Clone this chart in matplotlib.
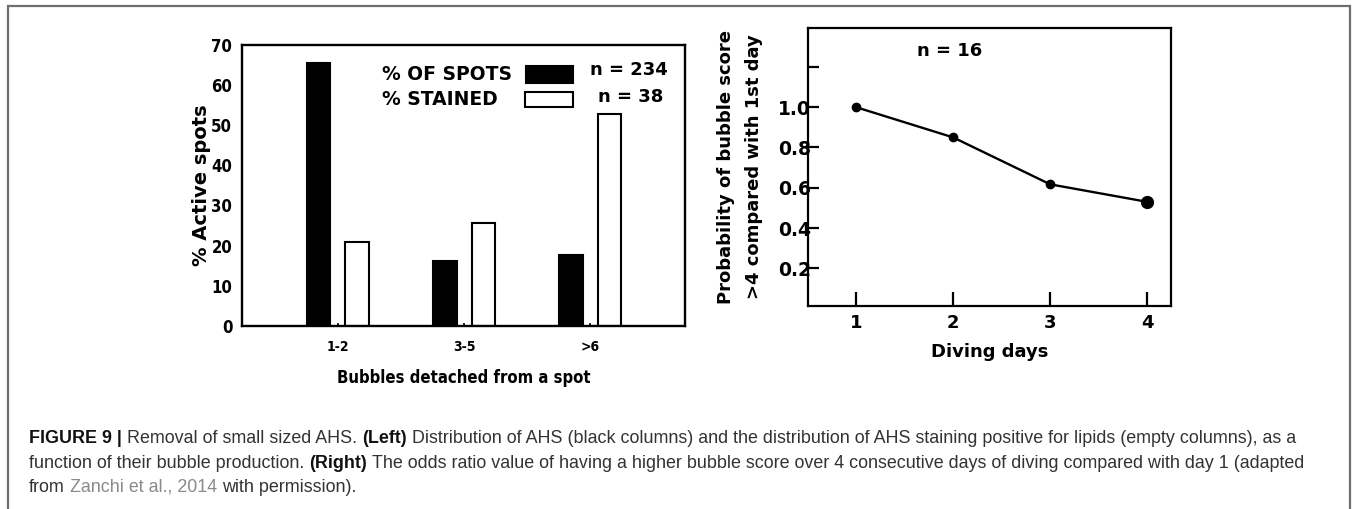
import numpy as np
import matplotlib
matplotlib.use("Agg")
import matplotlib.pyplot as plt
from matplotlib.patches import Rectangle
from matplotlib import font_manager

# left panel: % active spots by bubbles detached
categories = ['1-2', '3-5', '>6']
pct_spots = [65.3, 16.2, 17.6]
pct_stained = [20.8, 25.7, 52.8]
legend_labels = ['% OF SPOTS', '% STAINED']
legend_n = ['n = 234', 'n = 38']

# right panel: probability over diving days
days = [1, 2, 3, 4]
prob = [1.0, 0.85, 0.617, 0.53]
y_ticks = [0.2, 0.4, 0.6, 0.8, 1.0, 1.2]
y_ticklabels = ['0.2', '0.4', '0.6', '0.8', '1.0', '']

W, H = 1357, 509
fig = plt.figure(figsize=(W / 100, H / 100), dpi=100)
plt.rcParams['font.family'] = 'DejaVu Sans'

# condensed bold if the font exists, else plain bold a bit smaller
cond_path = font_manager.findfont(font_manager.FontProperties(family='DejaVu Sans', stretch='condensed', weight='bold'))
has_cond = 'Condensed' in cond_path
k = 1.0 if has_cond else 0.88
cond = dict(fontweight='bold', fontstretch='condensed')

# outer frame
fig.patches.append(Rectangle((8 / W, -0.1), (1350 - 8) / W, 1.1 - 6 / H, transform=fig.transFigure,
                             fill=False, edgecolor='#6e6e6e', lw=1.6))

# ---- left panel ----
ax1 = fig.add_axes([242 / W, 1 - 326 / H, (685 - 242) / W, (326 - 44.5) / H])
x = np.arange(len(categories))
bw = 0.185
ax1.bar(x - 0.152, pct_spots, bw, color='black', edgecolor='black', lw=1.5)
ax1.bar(x + 0.152, pct_stained, bw, color='white', edgecolor='black', lw=1.5)
ax1.set_xlim(-0.76, 2.75)
ax1.set_ylim(0, 70)
ax1.set_yticks(range(0, 71, 10))
ax1.set_xticks(x)
ax1.set_xticklabels(categories, fontsize=10 * k, **cond)
for lab in ax1.get_yticklabels():
    lab.set_fontsize(12 * k)
    lab.set_fontweight('bold')
    lab.set_fontstretch('condensed')
ax1.tick_params(axis='y', length=0, pad=7)
ax1.tick_params(axis='x', direction='in', length=2.5, width=1.2, pad=10)
for s in ax1.spines.values():
    s.set_linewidth(1.7)
ax1.set_ylabel('% Active spots', fontsize=14, fontweight='bold', labelpad=0)
ax1.set_xlabel('Bubbles detached from a spot', fontsize=12 * k, labelpad=11, **cond)

# legend drawn by hand: text then box
ax1.text(0.316, 0.892, legend_labels[0], transform=ax1.transAxes, fontsize=13.5, fontweight='bold', va='center')
ax1.text(0.316, 0.803, legend_labels[1], transform=ax1.transAxes, fontsize=13.5, fontweight='bold', va='center')
ax1.add_patch(Rectangle((0.641, 0.865), 0.106, 0.06, transform=ax1.transAxes, facecolor='black', edgecolor='black', lw=1.5))
ax1.add_patch(Rectangle((0.638, 0.777), 0.109, 0.055, transform=ax1.transAxes, facecolor='white', edgecolor='black', lw=1.5))
ax1.text(0.786, 0.909, legend_n[0], transform=ax1.transAxes, fontsize=13, fontweight='bold', va='center')
ax1.text(0.804, 0.815, legend_n[1], transform=ax1.transAxes, fontsize=13, fontweight='bold', va='center')

# ---- right panel ----
ax2 = fig.add_axes([808.3 / W, 1 - 305.7 / H, (1170.7 - 808.3) / W, (305.7 - 27.7) / H])
ax2.plot(days, prob, color='black', lw=1.7, marker='o', ms=6)
ax2.plot(days[-1], prob[-1], 'o', color='black', ms=8.5)
ax2.set_xlim(0.51, 4.24)
ax2.set_ylim(0.015, 1.394)
ax2.set_xticks(days)
ax2.set_xticklabels([str(d) for d in days], fontsize=13, fontweight='bold')
ax2.set_yticks(y_ticks)
ax2.set_yticklabels(y_ticklabels, fontsize=13.5, fontweight='bold')
ax2.tick_params(axis='y', direction='in', length=8, width=1.6, pad=-2)
ax2.tick_params(axis='x', direction='in', length=10, width=1.6, pad=6)
for s in ax2.spines.values():
    s.set_linewidth(1.6)
ax2.set_xlabel('Diving days', fontsize=13, fontweight='bold', labelpad=8)
ax2.set_ylabel('Probability of bubble score\n>4 compared with 1st day', fontsize=13, fontweight='bold',
               labelpad=11, linespacing=1.72)
ax2.text(0.39, 0.915, 'n = 16', transform=ax2.transAxes, fontsize=13, fontweight='bold', va='center', ha='center')

# ---- caption, pieces placed one after another ----
cap_font = 'Liberation Sans'
cap_size = 12.9
lines = [
    [('FIGURE 9 |', 'bold', '#111111'), ('Removal of small sized AHS.', 'normal', '#333333'),
     ('(Left)', 'bold', '#111111'),
     ('Distribution of AHS (black columns) and the distribution of AHS staining positive for lipids (empty columns), as a',
      'normal', '#333333')],
    [('function of their bubble production.', 'normal', '#333333'), ('(Right)', 'bold', '#111111'),
     ('The odds ratio value of having a higher bubble score over 4 consecutive days of diving compared with day 1 (adapted',
      'normal', '#333333')],
    [('from', 'normal', '#333333'), ('Zanchi et al., 2014', 'normal', '#8a8a8a'),
     ('with permission).', 'normal', '#333333')],
]
line_y = [1 - 443 / H, 1 - 468 / H, 1 - 492 / H]
renderer = fig.canvas.get_renderer()
t1 = fig.text(0, 0, 'x x', family=cap_font, fontsize=cap_size)
t2 = fig.text(0, 0, 'xx', family=cap_font, fontsize=cap_size)
space = t1.get_window_extent(renderer).width - t2.get_window_extent(renderer).width
t1.remove()
t2.remove()
for pieces, yy in zip(lines, line_y):
    xp = 29.0
    for txt, wt, col in pieces:
        t = fig.text(xp / W, yy, txt, family=cap_font, fontsize=cap_size, fontweight=wt, color=col, va='baseline')
        xp = t.get_window_extent(renderer).x1 + space

fig.savefig('out.png', dpi=100)
